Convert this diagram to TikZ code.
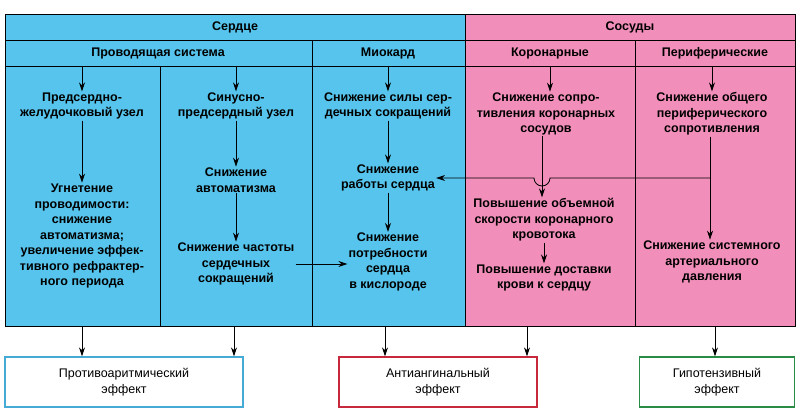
\documentclass[tikz,border=0pt]{standalone}
\usepackage{fontspec}
\setmainfont{Liberation Sans}
\usetikzlibrary{arrows.meta}
\definecolor{heartblue}{RGB}{86,196,236}
\definecolor{vesselpink}{RGB}{241,143,186}
\definecolor{effblue}{RGB}{70,170,215}
\definecolor{effred}{RGB}{200,40,60}
\definecolor{effgreen}{RGB}{40,140,70}
\tikzset{
  txt/.style={align=center,inner sep=1pt,font=\fontsize{12.5}{15.5}\selectfont\bfseries},
  flow/.style={-{Stealth[length=9pt,width=6pt]},line width=0.8pt},
  effect/.style={draw,line width=1.4pt,fill=white,minimum height=50pt,
    align=center,font=\fontsize{12.5}{15.5}\selectfont}
}
\begin{document}
\begin{tikzpicture}[x=1pt,y=-1pt]
\useasboundingbox (0,0) rectangle (800,413);
% backgrounds
\fill[heartblue] (5,14) rectangle (465,326);
\fill[vesselpink] (465,14) rectangle (795,326);
% grid
\draw[line width=0.8pt] (5,14) rectangle (795,326);
\draw[line width=0.8pt] (5,40) -- (795,40);
\draw[line width=0.8pt] (5,66) -- (795,66);
\draw[line width=0.8pt] (465,14) -- (465,326);
\draw[line width=0.8pt] (160,66) -- (160,326);
\draw[line width=0.8pt] (312,40) -- (312,326);
\draw[line width=0.8pt] (635,40) -- (635,326);
% headers
\node[txt] (heart) at (235,27) {Сердце};
\node[txt] (vessel) at (630,27) {Сосуды};
\node[txt] (conduct) at (158,53) {Проводящая система};
\node[txt] (myo) at (388,53) {Миокард};
\node[txt] (coron) at (550,53) {Коронарные};
\node[txt] (perif) at (715,53) {Периферические};
% column tops and bottoms
\foreach \n/\x in {1/82,2/236,3/388,4/550,5/712}{
  \coordinate (top\n) at (\x,66);
}
\coordinate (bot1) at (82,326);
\coordinate (bot2) at (234,326);
\coordinate (bot3) at (385,326);
\coordinate (bot4) at (527,326);
\coordinate (bot5) at (715,326);
% column 1
\node[txt] (av) at (82,106) {Предсердно-\\желудочковый узел};
\node[txt] (inhib) at (82,236) {Угнетение\\проводимости:\\снижение\\автоматизма;\\увеличение эффек-\\тивного рефрактер-\\ного периода};
% column 2
\node[txt] (sa) at (236,106) {Синусно-\\предсердный узел};
\node[txt] (auto) at (236,180) {Снижение\\автоматизма};
\node[txt] (rate) at (236,264) {Снижение частоты\\сердечных\\сокращений};
% column 3
\node[txt] (force) at (388,106) {Снижение силы сер-\\дечных сокращений};
\node[txt] (work) at (388,178) {Снижение\\работы сердца};
\node[txt] (demand) at (388,262) {Снижение\\потребности\\сердца\\в кислороде};
% column 4
\node[txt] (resist) at (546,114) {Снижение сопро-\\тивления коронарных\\сосудов};
\node[txt] (speed) at (544,220) {Повышение объемной\\скорости коронарного\\кровотока};
\node[txt] (supply) at (544,278) {Повышение доставки\\крови к сердцу};
% column 5
\node[txt] (total) at (712,114) {Снижение общего\\периферического\\сопротивления};
\node[txt] (pressure) at (712,262) {Снижение системного\\артериального\\давления};
% effects
\node[effect,draw=effblue,minimum width=238pt] (anti) at (124,382) {Противоаритмический\\эффект};
\node[effect,draw=effred,minimum width=198pt] (angin) at (438,382) {Антиангинальный\\эффект};
\node[effect,draw=effgreen,minimum width=155pt] (hypo) at (717,382) {Гипотензивный\\эффект};
% arrows
\draw[flow] (top1) -- (av);
\draw[flow] (top2) -- (sa);
\draw[flow] (top3) -- (force);
\draw[flow] (top4) -- (resist.north -| top4);
\draw[flow] (top5) -- (total);
\draw[flow] (av) -- (inhib);
\draw[flow] (sa) -- (auto);
\draw[flow] (auto) -- (rate);
\draw[flow] (force) -- (work);
\draw[flow] (work) -- (demand);
\draw[flow] (rate.east) -- (demand.west |- rate.east);
\draw[flow] (resist.south -| 542,0) -- (speed.north -| 542,0);
\draw[flow] (speed) -- (supply);
\coordinate (branch) at (710,178);
\draw[flow] (total.south -| branch) -- (pressure.north -| branch);
\draw[flow] (branch) -- (550,178) arc[start angle=0,end angle=180,radius=8] -- (work.east);
\draw[flow] (bot1) -- (bot1 |- anti.north);
\draw[flow] (bot2) -- (bot2 |- anti.north);
\draw[flow] (bot3) -- (bot3 |- angin.north);
\draw[flow] (bot4) -- (bot4 |- angin.north);
\draw[flow] (bot5) -- (bot5 |- hypo.north);
\end{tikzpicture}
\end{document}
